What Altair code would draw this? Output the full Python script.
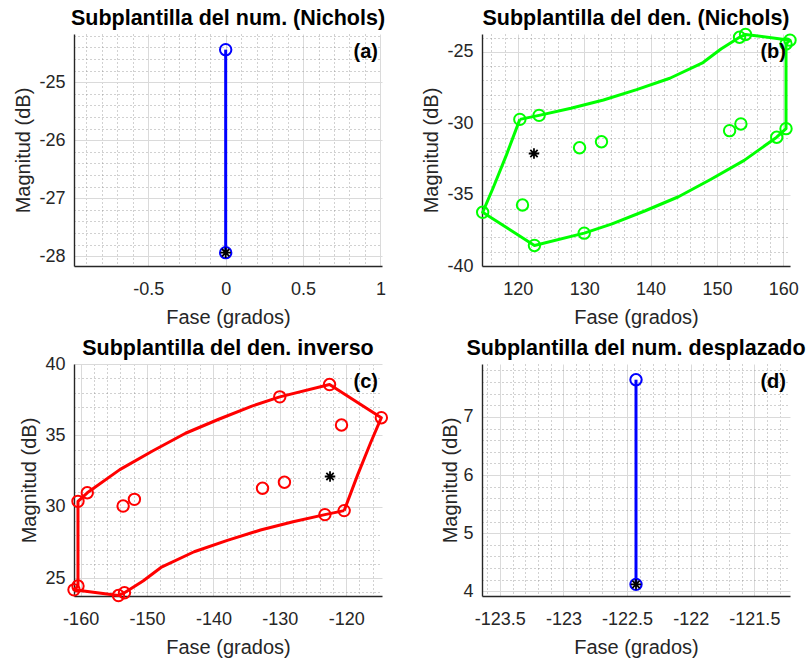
import altair as alt
import pandas as pd

FONT = "Liberation Sans"
TXT = "#262626"
W, H = 308, 232

# --- (a) numerator template: phase (deg) / magnitude (dB)
num_fase = [0.0, 0.0]
num_mag = [-27.94, -24.44]

# --- (b) denominator template: closed boundary contour
den_borde_fase = [120.3, 123.2, 128.0, 132.9, 137.9, 142.9, 147.9, 150.6, 153.4, 154.3,
                  161.0, 160.4, 160.4, 159.0, 154.1, 149.1, 144.2, 139.2, 134.2,
                  130.0, 122.5, 114.7, 116.3, 118.3, 120.3]
den_borde_mag = [-29.73, -29.45, -28.95, -28.37, -27.65, -26.85, -25.75, -24.8, -23.98, -23.78,
                 -24.18, -24.45, -30.38, -30.98, -32.6, -33.92, -35.15, -36.13, -37.05,
                 -37.7, -38.56, -36.24, -34.5, -32.2, -29.73]
# template frequency points
den_pts_fase = [120.3, 123.2, 153.4, 154.3, 161.0, 160.4, 160.4, 159.0, 130.0, 122.5,
                114.7, 120.7, 129.3, 132.6, 151.9, 153.6]
den_pts_mag = [-29.73, -29.45, -23.98, -23.78, -24.18, -24.45, -30.38, -30.98, -37.7,
               -38.56, -36.24, -35.73, -31.72, -31.3, -30.52, -30.05]
# nominal plant
den_nom_fase = [122.43]
den_nom_mag = [-32.12]

# --- (d) numerator template shifted onto the inverse denominator
desp_fase = [-122.43, -122.43]
desp_mag = [4.12, 7.64]

# --- (c) inverse of the denominator: phase and magnitude change sign
inv_borde_fase = [-v for v in den_borde_fase]
inv_borde_mag = [-v for v in den_borde_mag]
inv_pts_fase = [-v for v in den_pts_fase]
inv_pts_mag = [-v for v in den_pts_mag]
inv_nom_fase = [-v for v in den_nom_fase]
inv_nom_mag = [-v for v in den_nom_mag]

ASTER = "M-1,0L1,0M0,-1L0,1M-0.7,-0.7L0.7,0.7M-0.7,0.7L0.7,-0.7"


def frame(fase, mag):
    return pd.DataFrame({"fase": fase, "mag": mag, "i": list(range(len(fase)))})


def panel(title, tag, xdom, ydom, xmaj, ymaj, xmin, ymin, ytitle_x,
          borde, puntos, nominal, color):
    sx = alt.Scale(domain=xdom, nice=False, zero=False)
    sy = alt.Scale(domain=ydom, nice=False, zero=False)
    pts = frame(*puntos)

    # dotted minor grid
    minor = alt.Chart(pts).mark_point(opacity=0).encode(
        x=alt.X("fase:Q", scale=sx, axis=alt.Axis(
            orient="bottom", values=xmin, grid=True, gridDash=[1, 3],
            gridColor="#8c8c8c", gridOpacity=0.8, labels=False, ticks=False,
            domain=False, title=None, minExtent=0, maxExtent=0)),
        y=alt.Y("mag:Q", scale=sy, axis=alt.Axis(
            orient="left", values=ymin, grid=True, gridDash=[1, 3],
            gridColor="#8c8c8c", gridOpacity=0.8, labels=False, ticks=False,
            domain=False, title=None, minExtent=0, maxExtent=0)),
    )

    common = dict(grid=True, gridColor="#dadada", gridWidth=1, ticks=False,
                  domain=True, domainColor=TXT, domainWidth=1.4,
                  labelFont=FONT, labelFontSize=18, labelColor=TXT,
                  labelFlush=False, labelOverlap=False,
                  labelExpr="'' + datum.value",
                  titleFont=FONT, titleFontSize=20, titleColor=TXT,
                  titleFontWeight="normal")
    major = alt.Chart(pts).mark_point(opacity=0).encode(
        x=alt.X("fase:Q", scale=sx, axis=alt.Axis(
            orient="bottom", values=xmaj, title="Fase (grados)",
            labelPadding=14, titleX=W / 2, titleY=57,
            titleAlign="center", titleBaseline="alphabetic", **common)),
        y=alt.Y("mag:Q", scale=sy, axis=alt.Axis(
            orient="left", values=ymaj, title="Magnitud (dB)",
            labelPadding=9, titleX=ytitle_x, titleY=H / 2, titleAngle=270,
            titleAlign="center", titleBaseline="alphabetic", **common)),
    )

    xe = alt.X("fase:Q", scale=sx, axis=None)
    ye = alt.Y("mag:Q", scale=sy, axis=None)

    linea = alt.Chart(frame(*borde)).mark_line(
        color=color, strokeWidth=3, strokeJoin="round").encode(
        x=xe, y=ye, order="i:Q")
    circulos = alt.Chart(pts).mark_point(
        shape="circle", size=130, filled=False, color=color,
        strokeWidth=2, opacity=1).encode(x=xe, y=ye)
    estrella = alt.Chart(frame(*nominal)).mark_point(
        shape=ASTER, size=110, filled=False, color="black",
        strokeWidth=1.8, opacity=1).encode(x=xe, y=ye)
    etiqueta = alt.Chart(pd.DataFrame({"t": [tag]})).mark_text(
        font=FONT, fontSize=20, fontWeight="bold", color="black",
        align="right", baseline="middle").encode(
        text="t:N", x=alt.value(W - 4), y=alt.value(18))
    titulo = alt.Chart(pd.DataFrame({"t": [title]})).mark_text(
        font=FONT, fontSize=21.5, fontWeight="bold", color="black",
        align="center", baseline="alphabetic").encode(
        text="t:N", x=alt.value(W / 2), y=alt.value(-9))

    return alt.layer(minor, major, linea, circulos, estrella, etiqueta,
                     titulo).resolve_axis(
        x="independent", y="independent").properties(width=W, height=H)


pa = panel("Subplantilla del num. (Nichols)", "(a)",
           [-0.98, 1.01], [-28.17, -24.17],
           [-0.5, 0, 0.5, 1], [-28, -27, -26, -25],
           [round(v / 10, 1) for v in range(-9, 10) if v % 5],
           [round(v / 5, 1) for v in range(-140, -120) if v % 5],
           -45,
           (num_fase, num_mag), (num_fase, num_mag),
           (num_fase[:1], num_mag[:1]), "#0000ff")

pb = panel("Subplantilla del den. (Nichols)", "(b)",
           [114.6, 161.0], [-40, -23.75],
           [120, 130, 140, 150, 160], [-40, -35, -30, -25],
           [v for v in range(116, 162, 2) if v % 10],
           [v for v in range(-39, -23) if v % 5],
           -45,
           (den_borde_fase, den_borde_mag), (den_pts_fase, den_pts_mag),
           (den_nom_fase, den_nom_mag), "#00ff00")

pc = panel("Subplantilla del den. inverso", "(c)",
           [-161.0, -114.6], [23.75, 40],
           [-160, -150, -140, -130, -120], [25, 30, 35, 40],
           [v for v in range(-158, -113, 2) if v % 10],
           [v for v in range(24, 40) if v % 5],
           -39,
           (inv_borde_fase, inv_borde_mag), (inv_pts_fase, inv_pts_mag),
           (inv_nom_fase, inv_nom_mag), "#ff0000")

pd_ = panel("Subplantilla del num. desplazado", "(d)",
            [-123.64, -121.22], [3.92, 7.91],
            [-123.5, -123, -122.5, -122, -121.5], [4, 5, 6, 7],
            [round(v / 10, 1) for v in range(-1236, -1212) if v % 5],
            [round(v / 5, 1) for v in range(20, 40) if v % 5],
            -26,
            (desp_fase, desp_mag), (desp_fase, desp_mag),
            (desp_fase[:1], desp_mag[:1]), "#0000ff")

chart = alt.concat(pa, pb, pc, pd_, columns=2,
                   spacing=alt.RowColnumber(row=98, column=100),
                   bounds="flush").configure(
    padding={"left": 13, "top": 8, "right": 5, "bottom": 2},
    background="white").configure_view(stroke=None)

chart.save("out.html", embed_options={"renderer": "svg", "actions": False})
